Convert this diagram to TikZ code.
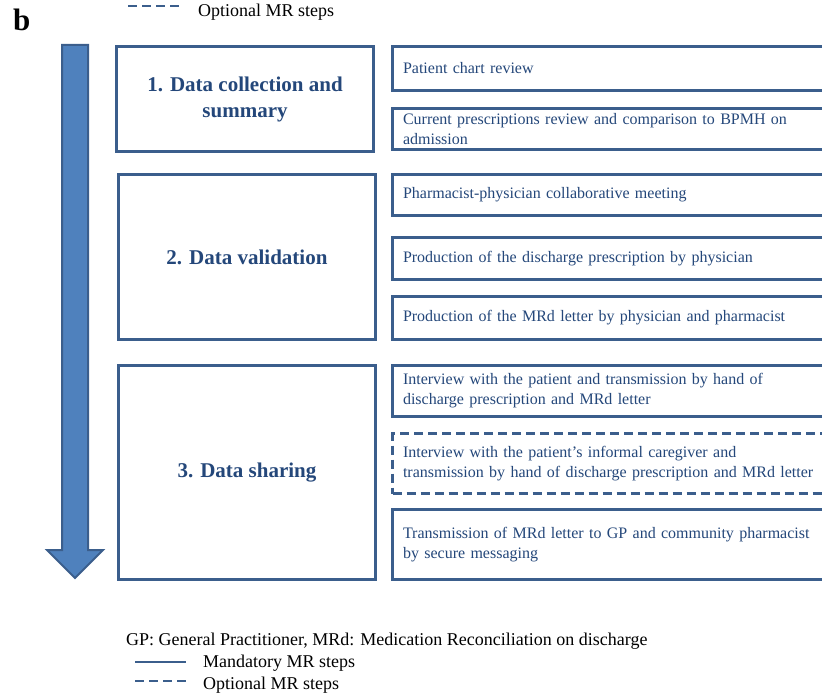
\documentclass[tikz,border=0pt]{standalone}
\usepackage{fontspec}
\setmainfont{Liberation Serif}
\usepackage{xcolor}
\usetikzlibrary{positioning,calc}

\definecolor{boxblue}{RGB}{59,94,140}
\definecolor{txtblue}{RGB}{36,71,122}
\definecolor{arrowfill}{RGB}{79,129,189}

\begin{document}
\begin{tikzpicture}[x=1pt, y=-1pt]
        \tikzset{
            phase/.style={draw=boxblue, fill=white, rectangle, line width=3pt, anchor=north west, minimum width=257pt, align=center, text=txtblue, font=\fontsize{21}{26}\selectfont\bfseries},
            task/.style={draw=boxblue, fill=white, rectangle, line width=3pt, anchor=north west, inner xsep=10.5pt, text width=440pt, align=left, text=txtblue, font=\fontsize{16}{20}\selectfont},
            optional/.style={dash pattern=on 9pt off 5pt},
            legendtext/.style={anchor=west, inner sep=0pt, font=\fontsize{18}{21}\selectfont},
            legendline/.style={draw=boxblue, line width=2.5pt}
        }
        \useasboundingbox (0,0) rectangle (822,695);
        \clip (0,0) rectangle (822,695);

        % Panel letter
        \node [anchor=north west, inner sep=0pt, font=\fontsize{31}{31}\selectfont\bfseries] (panel) at (13,9) {b};

        % Top legend (cut)
        \coordinate (topopt-a) at (128,6);
        \coordinate (topopt-b) at (180,6);
        \draw [legendline, optional] (topopt-a) -- (topopt-b);
        \node [legendtext] (topopt) at (198,12) {Optional MR steps};

        % Time arrow
        \draw [draw=boxblue, fill=arrowfill, line width=2pt, line join=miter]
            (62,45) -- (88,45) -- (88,550) -- (103,550) -- (75,578) -- (47,550) -- (62,550) -- cycle;

        % Phases
        \node [phase, minimum height=105pt] (collect) at (115,45) {1. Data collection and\\summary};
        \node [phase, minimum height=165pt] (validate) at (117,173) {2. Data validation};
        \node [phase, minimum height=214pt] (share) at (117,364) {3. Data sharing};

        % Tasks of phase 1
        \node [task, minimum height=44pt] (chart) at (391,45) {Patient chart review};
        \node [task, minimum height=41pt] (presc) at (391,107) {Current prescriptions review and comparison to BPMH on\\admission};

        % Tasks of phase 2
        \node [task, minimum height=41pt] (meeting) at (391,173) {Pharmacist-physician collaborative meeting};
        \node [task, minimum height=42pt] (dischpresc) at (391,236) {Production of the discharge prescription by physician};
        \node [task, minimum height=43pt] (letter) at (391,295) {Production of the MRd letter by physician and pharmacist};

        % Tasks of phase 3
        \node [task, minimum height=51pt] (interview) at (391,364) {Interview with the patient and transmission by hand of\\discharge prescription and MRd letter};
        \node [task, optional, minimum height=60pt] (caregiver) at (391,432) {Interview with the patient’s informal caregiver and\\transmission by hand of discharge prescription and MRd letter};
        \node [task, minimum height=70pt] (messaging) at (391,508) {Transmission of MRd letter to GP and community pharmacist\\by secure messaging};

        % Legend
        \node [legendtext] (abbrev) at (126,641) {GP: General Practitioner, MRd: Medication Reconciliation on discharge};
        \coordinate (mand-a) at (135,662);
        \coordinate (mand-b) at (186,662);
        \draw [legendline] (mand-a) -- (mand-b);
        \node [legendtext] (mandatory) at (203,663) {Mandatory MR steps};
        \coordinate (opt-a) at (135,681);
        \coordinate (opt-b) at (186,681);
        \draw [legendline, optional] (opt-a) -- (opt-b);
        \node [legendtext] (opt) at (203,685) {Optional MR steps};
    \end{tikzpicture}
\end{document}
